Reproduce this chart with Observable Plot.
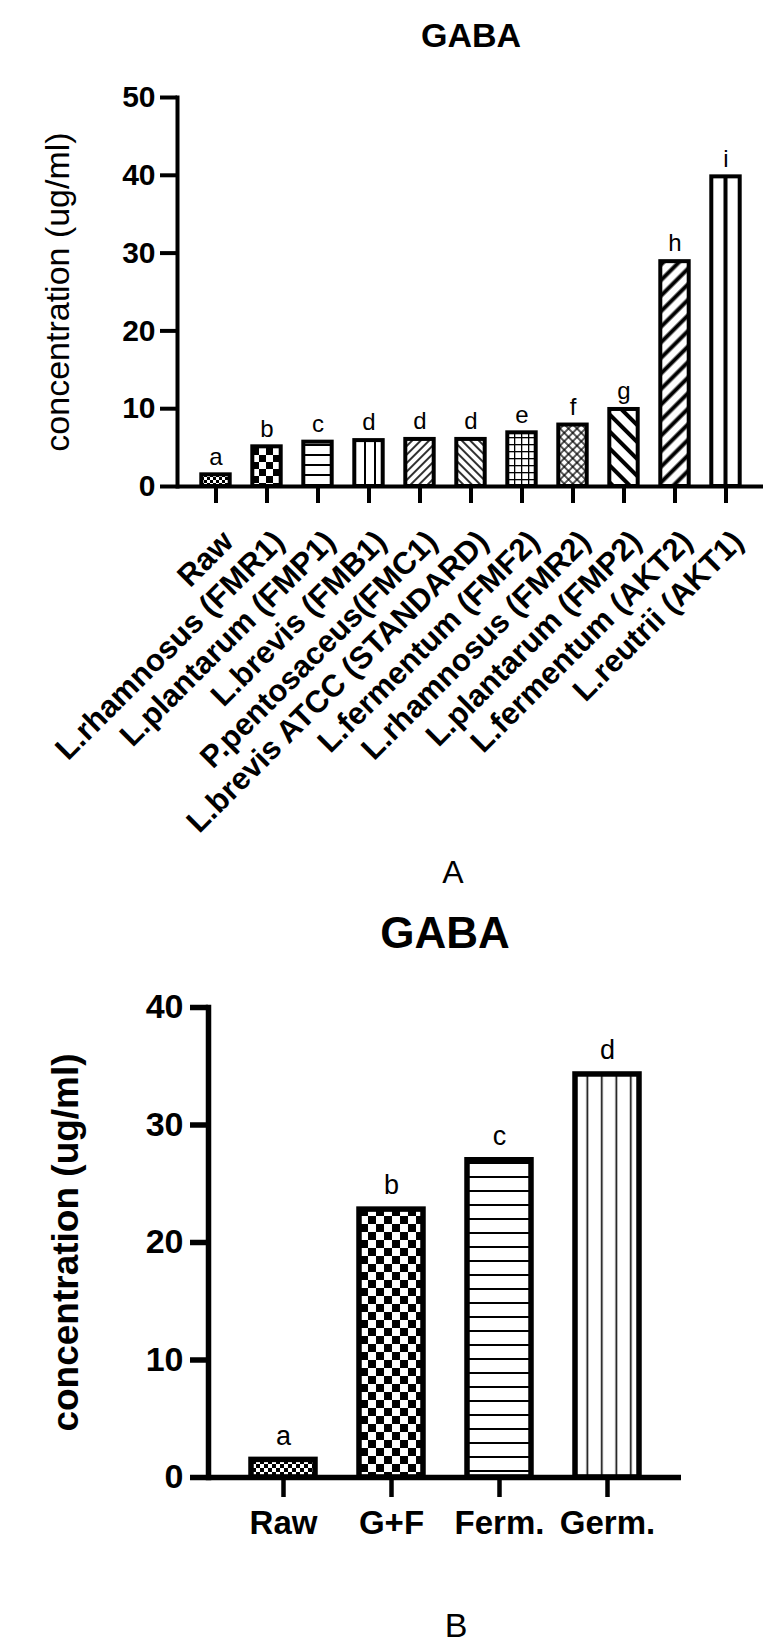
<!DOCTYPE html>
<html><head><meta charset="utf-8">
<script src="https://cdn.jsdelivr.net/npm/d3@7"></script>
<script src="https://cdn.jsdelivr.net/npm/@observablehq/plot@0.6"></script>
<style>
html,body{margin:0;padding:0;background:#fff;}
#wrap{position:relative;width:780px;height:1652px;overflow:hidden;font-family:'Liberation Sans',Arial,sans-serif;color:#000;background:#fff;}
.abs{position:absolute;line-height:1;text-align:center;white-space:nowrap;}
.chart{position:absolute;left:0;}
</style></head><body>
<div id="wrap">
  <div id="chartA" class="chart" style="top:0px"></div>
  <div id="chartB" class="chart" style="top:960px"></div>
  <div class="abs" style="left:271px;width:400px;top:18px;font-size:34px;font-weight:bold;">GABA</div>
  <div class="abs" style="left:253px;width:400px;top:856px;font-size:32px;">A</div>
  <div class="abs" style="left:245px;width:400px;top:911px;font-size:44px;font-weight:bold;">GABA</div>
  <div class="abs" style="left:256px;width:400px;top:1608px;font-size:34px;">B</div>
</div>
<script>
// ---- data ----
const catsA = ["Raw","L.rhamnosus (FMR1)","L.plantarum (FMP1)","L.brevis (FMB1)","P.pentosaceus(FMC1)","L.brevis ATCC (STANDARD)","L.fermentum (FMF2)","L.rhamnosus (FMR2)","L.plantarum (FMP2)","L.fermentum (AKT2)","L.reutrii (AKT1)"];
const valuesA = [1.5, 5.1, 5.7, 5.9, 6.05, 6.05, 6.9, 7.9, 9.9, 28.9, 39.8];
const lettersA = ["a","b","c","d","d","d","e","f","g","h","i"];
const ticksA = [0, 10, 20, 30, 40, 50];

const catsB = ["Raw","G+F","Ferm.","Germ."];
const valuesB = [1.5, 22.8, 27.0, 34.3];
const lettersB = ["a","b","c","d"];
const ticksB = [0, 10, 20, 30, 40];

const yLabel = "concentration (ug/ml)";

// ---- styles (hatch patterns) ----
const patternsA = ["pA0","pA1","pA2","pA3","pA4","pA5","pA6","pA7","pA8","pA9","pA10"];
const patternsB = ["pB0","pB1","pB2","pB3"];

const W = '<rect width="100" height="100" fill="#fff"/>';
const defsA = `
<pattern id="pA0" patternUnits="userSpaceOnUse" width="6" height="6">${W}<rect width="3" height="3" fill="#000"/><rect x="3" y="3" width="3" height="3" fill="#000"/></pattern>
<pattern id="pA1" patternUnits="userSpaceOnUse" width="14" height="14">${W}<rect width="7" height="7" fill="#000"/><rect x="7" y="7" width="7" height="7" fill="#000"/></pattern>
<pattern id="pA2" patternUnits="userSpaceOnUse" width="10" height="10">${W}<rect y="4" width="10" height="2" fill="#000"/></pattern>
<pattern id="pA3" patternUnits="userSpaceOnUse" width="10" height="10">${W}<rect x="4" width="2" height="10" fill="#000"/></pattern>
<pattern id="pA4" patternUnits="userSpaceOnUse" width="6" height="6" patternTransform="rotate(45)">${W}<rect x="2.2" width="1.6" height="6" fill="#000"/></pattern>
<pattern id="pA5" patternUnits="userSpaceOnUse" width="6" height="6" patternTransform="rotate(-45)">${W}<rect x="2.2" width="1.6" height="6" fill="#000"/></pattern>
<pattern id="pA6" patternUnits="userSpaceOnUse" width="7" height="7">${W}<rect x="3" width="1.3" height="7" fill="#000"/><rect y="3" width="7" height="1.3" fill="#000"/></pattern>
<pattern id="pA7" patternUnits="userSpaceOnUse" width="6" height="6" patternTransform="rotate(45)">${W}<rect x="2.4" width="1.3" height="6" fill="#000"/><rect y="2.4" width="6" height="1.3" fill="#000"/></pattern>
<pattern id="pA8" patternUnits="userSpaceOnUse" width="12" height="12" patternTransform="rotate(-45)">${W}<rect x="4" width="4" height="12" fill="#000"/></pattern>
<pattern id="pA9" patternUnits="userSpaceOnUse" width="11" height="11" patternTransform="rotate(45)">${W}<rect x="3.5" width="4" height="11" fill="#000"/></pattern>
<pattern id="pA10" patternUnits="objectBoundingBox" patternContentUnits="objectBoundingBox" width="1" height="1"><rect width="1" height="1" fill="#fff"/><rect x="0.43" width="0.14" height="1" fill="#000"/></pattern>`;
const defsB = `
<pattern id="pB0" patternUnits="userSpaceOnUse" width="8" height="8">${W}<rect width="4" height="4" fill="#000"/><rect x="4" y="4" width="4" height="4" fill="#000"/></pattern>
<pattern id="pB1" patternUnits="userSpaceOnUse" width="16" height="16">${W}<rect width="8" height="8" fill="#000"/><rect x="8" y="8" width="8" height="8" fill="#000"/></pattern>
<pattern id="pB2" patternUnits="userSpaceOnUse" width="14" height="14">${W}<rect y="6" width="14" height="2" fill="#000"/></pattern>
<pattern id="pB3" patternUnits="userSpaceOnUse" width="14.5" height="14.5">${W}<rect x="6.5" width="1.6" height="14.5" fill="#000"/></pattern>`;

function addDefs(svg, html) {
  const defs = document.createElementNS("http://www.w3.org/2000/svg", "defs");
  defs.innerHTML = html;
  svg.insertBefore(defs, svg.firstChild);
}

const rowsA = catsA.map((c, i) => ({cat: c, value: valuesA[i], letter: lettersA[i], fill: `url(#${patternsA[i]})`}));
const rowsB = catsB.map((c, i) => ({cat: c, value: valuesB[i], letter: lettersB[i], fill: `url(#${patternsB[i]})`}));

const baseStyle = {fontFamily: "'Liberation Sans', Arial, sans-serif", color: "#000", background: "transparent", overflow: "visible"};

const chartA = Plot.plot({
  width: 780, height: 900,
  marginLeft: 177, marginRight: 17, marginTop: 97, marginBottom: 414,
  style: baseStyle,
  x: {domain: catsA, paddingInner: 0, paddingOuter: 0.17, label: null},
  y: {domain: [0, 50], label: null},
  color: {type: "identity"},
  marks: [
    Plot.barY(rowsA, {x: "cat", y: "value", fill: "fill", stroke: "#000", strokeWidth: 4, insetLeft: 11.3, insetRight: 11.3}),
    Plot.text(rowsA, {x: "cat", y: "value", text: "letter", dy: -18, fontSize: 24}),
    Plot.frame({anchor: "left", strokeWidth: 4}),
    Plot.ruleY([0], {strokeWidth: 4}),
    Plot.axisY({ticks: ticksA, tickSize: 17, tickPadding: 5, strokeWidth: 4, fontSize: 30, fontWeight: "bold", label: null}),
    Plot.axisX({tickSize: 17, strokeWidth: 4, tickFormat: () => "", label: null}),
    Plot.text(catsA, {x: d => d, text: d => d, frameAnchor: "bottom", rotate: -45, textAnchor: "end", lineAnchor: "middle", dx: 12, dy: 50, fontSize: 31, fontWeight: "bold"}),
    Plot.text([yLabel], {text: d => d, frameAnchor: "left", rotate: -90, textAnchor: "middle", lineAnchor: "middle", dx: -119, fontSize: 34})
  ]
});
addDefs(chartA, defsA);
document.getElementById("chartA").appendChild(chartA);

const chartB = Plot.plot({
  width: 780, height: 692,
  marginLeft: 208, marginRight: 99, marginTop: 47, marginBottom: 175,
  style: baseStyle,
  x: {domain: catsB, paddingInner: 0, paddingOuter: 0.18, label: null},
  y: {domain: [0, 40], label: null},
  color: {type: "identity"},
  marks: [
    Plot.barY(rowsB, {x: "cat", y: "value", fill: "fill", stroke: "#000", strokeWidth: 5.5, insetLeft: 22, insetRight: 22}),
    Plot.text(rowsB, {x: "cat", y: "value", text: "letter", dy: -24, fontSize: 27}),
    Plot.frame({anchor: "left", strokeWidth: 5.5}),
    Plot.ruleY([0], {strokeWidth: 5.5}),
    Plot.axisY({ticks: ticksB, tickSize: 18, tickPadding: 7, strokeWidth: 5.5, fontSize: 34, fontWeight: "bold", label: null}),
    Plot.axisX({tickSize: 20, tickPadding: 13, strokeWidth: 4.5, fontSize: 33, fontWeight: "bold", label: null}),
    Plot.text([yLabel], {text: d => d, frameAnchor: "left", rotate: -90, textAnchor: "middle", lineAnchor: "middle", dx: -142, fontSize: 37, fontWeight: "bold"})
  ]
});
addDefs(chartB, defsB);
document.getElementById("chartB").appendChild(chartB);
</script>
</body></html>
